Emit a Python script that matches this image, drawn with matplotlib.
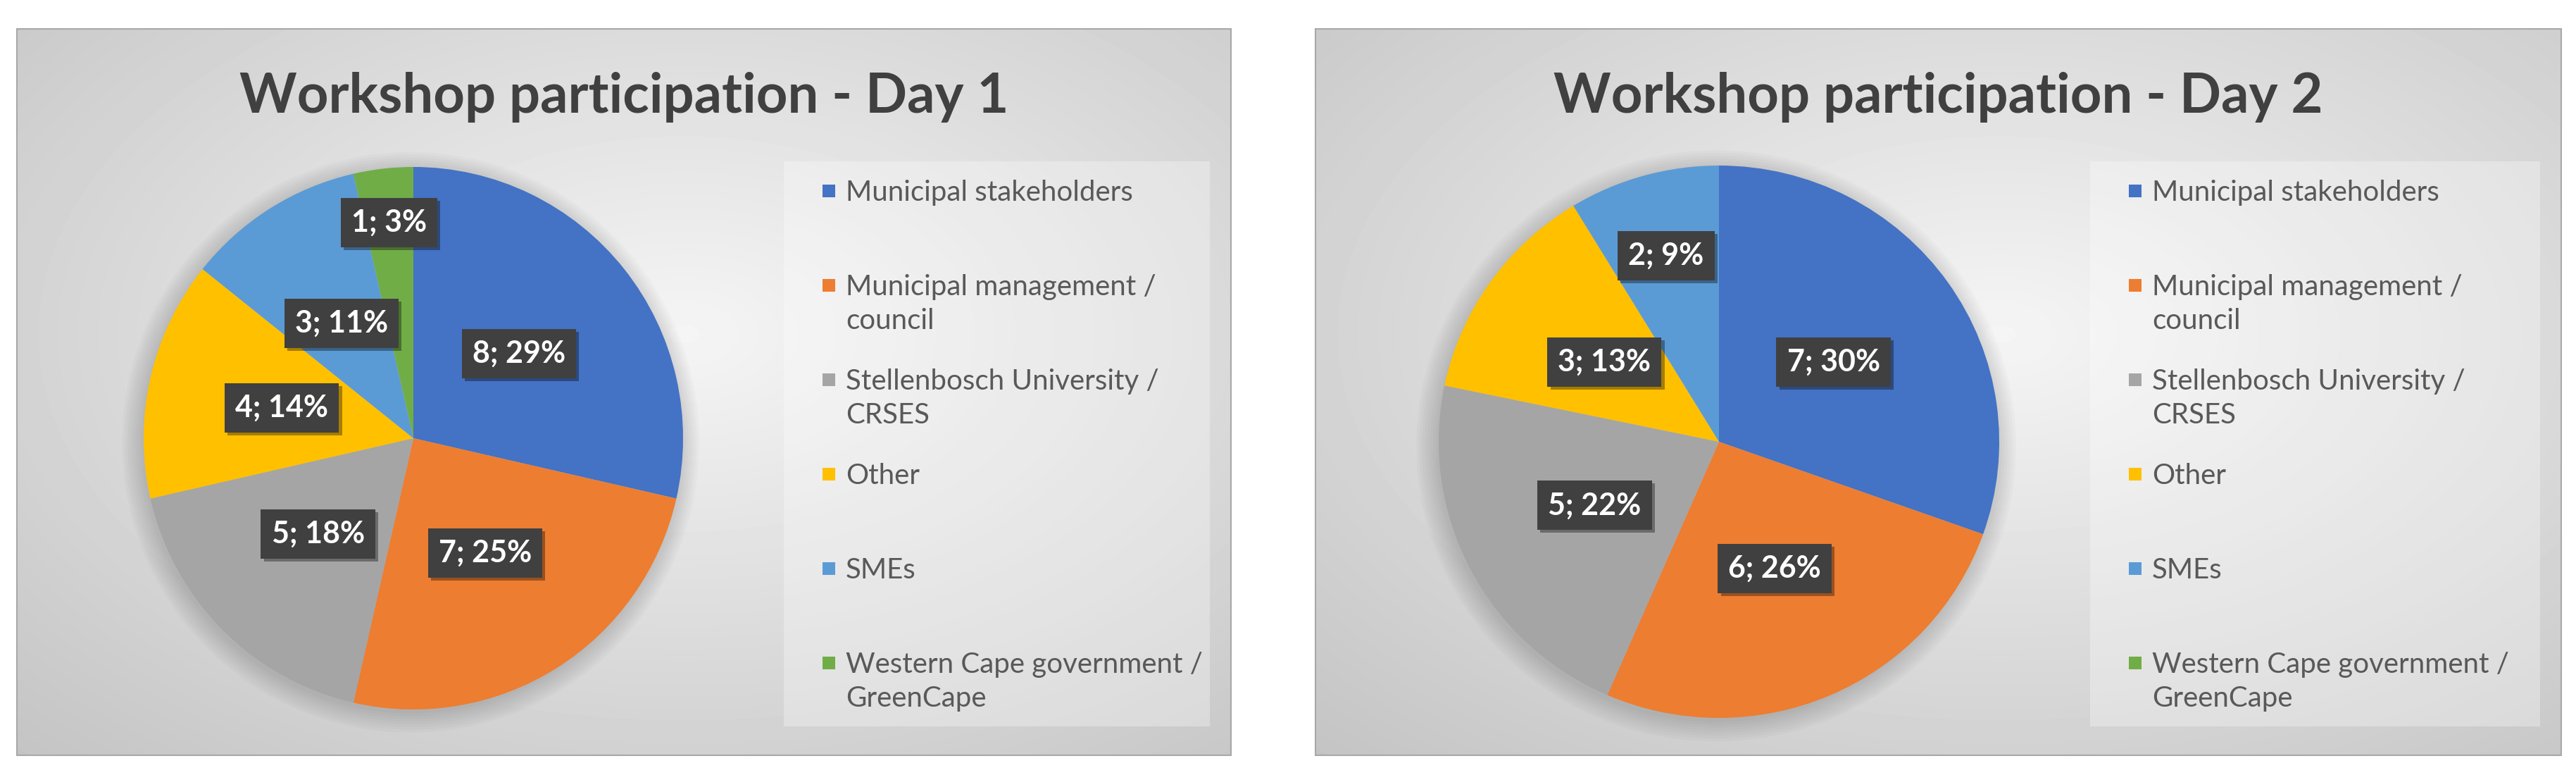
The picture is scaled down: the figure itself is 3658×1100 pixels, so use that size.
import numpy as np
import matplotlib.pyplot as plt
import matplotlib.patheffects as pe
from matplotlib.patches import Rectangle, Ellipse

# data
categories = ["Municipal stakeholders",
              "Municipal management /\ncouncil",
              "Stellenbosch University /\nCRSES",
              "Other",
              "SMEs",
              "Western Cape government /\nGreenCape"]
day1_counts = [8, 7, 5, 4, 3, 1]
day1_pct = [29, 25, 18, 14, 11, 3]
day2_counts = [7, 6, 5, 3, 2, 0]
day2_pct = [30, 26, 22, 13, 9, 0]
titles = ["Workshop participation - Day 1", "Workshop participation - Day 2"]

colors = ['#4472C4', '#ED7D31', '#A5A5A5', '#FFC000', '#5B9BD5', '#70AD47']
FONT = ['Lato', 'DejaVu Sans']

W, H = 3658, 1100
fig = plt.figure(figsize=(W / 100, H / 100), dpi=100)

# pixel-space overlay for backgrounds, titles and legends
ov = fig.add_axes([0, 0, 1, 1], zorder=0)
ov.set_xlim(0, W)
ov.set_ylim(H, 0)
ov.axis('off')

# layout per panel (pixels)
panels = [
    dict(frame=(24, 41, 1748, 1072), pie=(587, 622, 383, 385),
         legend=(1113, 229, 1718, 1031), lab_r=[0.5, 0.5, 0.5, 0.5, 0.5, 0.8]),
    dict(frame=(1868, 41, 3637, 1072), pie=(2441, 627, 398, 392),
         legend=(2968, 229, 3607, 1031), lab_r=[0.5, 0.5, 0.5, 0.5, 0.7, 0.5]),
]

# radial grey gradient like the Excel chart area fill
yy, xx = np.mgrid[0:1:300j, 0:1:500j]
dist = np.sqrt(((xx - 0.55) / 0.75) ** 2 + ((yy - 0.42) / 0.75) ** 2)
grad = 0.96 - 0.18 * dist

for p, counts, pct, title in zip(panels, [day1_counts, day2_counts],
                                  [day1_pct, day2_pct], titles):
    x0, y0, x1, y1 = p['frame']
    ov.imshow(grad, cmap='gray', vmin=0, vmax=1, extent=[x0, x1, y1, y0],
              aspect='auto', interpolation='bilinear')
    ov.add_patch(Rectangle((x0, y0), x1 - x0, y1 - y0, fill=False,
                           ec='#a8a8a8', lw=1.5))

    ov.text((x0 + x1) / 2, 138, title, ha='center', va='center',
            fontsize=56, fontweight='bold', color='#404040', family=FONT)

    # legend box and entries
    lx0, ly0, lx1, ly1 = p['legend']
    ov.add_patch(Rectangle((lx0, ly0), lx1 - lx0, ly1 - ly0, fc='white',
                           alpha=0.3, ec='none'))
    for i, (cat, col) in enumerate(zip(categories, colors)):
        ty = 271 + i * 134
        ov.add_patch(Rectangle((lx0 + 55, ty - 9), 18, 18, fc=col, ec='none'))
        ov.text(lx0 + 88, ty - 16, cat, ha='left', va='top', fontsize=29,
                color='#595959', family=FONT, linespacing=1.38)

    # pie
    cx, cy, rx, ry = p['pie']
    m = 1.2
    ax = fig.add_axes([(cx - m * rx) / W, 1 - (cy + m * ry) / H,
                       2 * m * rx / W, 2 * m * ry / H], zorder=1)
    ax.patch.set_alpha(0)
    for k in range(8):
        s = 1.0 + 0.01 * k
        ax.add_patch(Ellipse((-0.01, -0.015), 2 * s, 2 * s, fc='black',
                             alpha=0.02, ec='none'))
    wedges, _ = ax.pie(counts, colors=colors, startangle=90, counterclock=False,
                       wedgeprops=dict(linewidth=0))
    ax.set_aspect('auto')
    ax.set_xlim(-m, m)
    ax.set_ylim(-m, m)
    ax.axis('off')

    for w, c, pc, r in zip(wedges, counts, pct, p['lab_r']):
        if c == 0:
            continue
        ang = np.deg2rad((w.theta1 + w.theta2) / 2)
        t = ax.text(r * np.cos(ang), r * np.sin(ang), f"{c}; {pc}%",
                    ha='center', va='center', color='white', fontsize=31,
                    fontweight='bold', family=FONT,
                    bbox=dict(boxstyle='square,pad=0.35', fc='#404040', ec='none'))
        t.get_bbox_patch().set_path_effects(
            [pe.withSimplePatchShadow(offset=(3, -3), shadow_rgbFace='black', alpha=0.35),
             pe.Normal()])

fig.savefig('out.png', dpi=100, facecolor='white')
